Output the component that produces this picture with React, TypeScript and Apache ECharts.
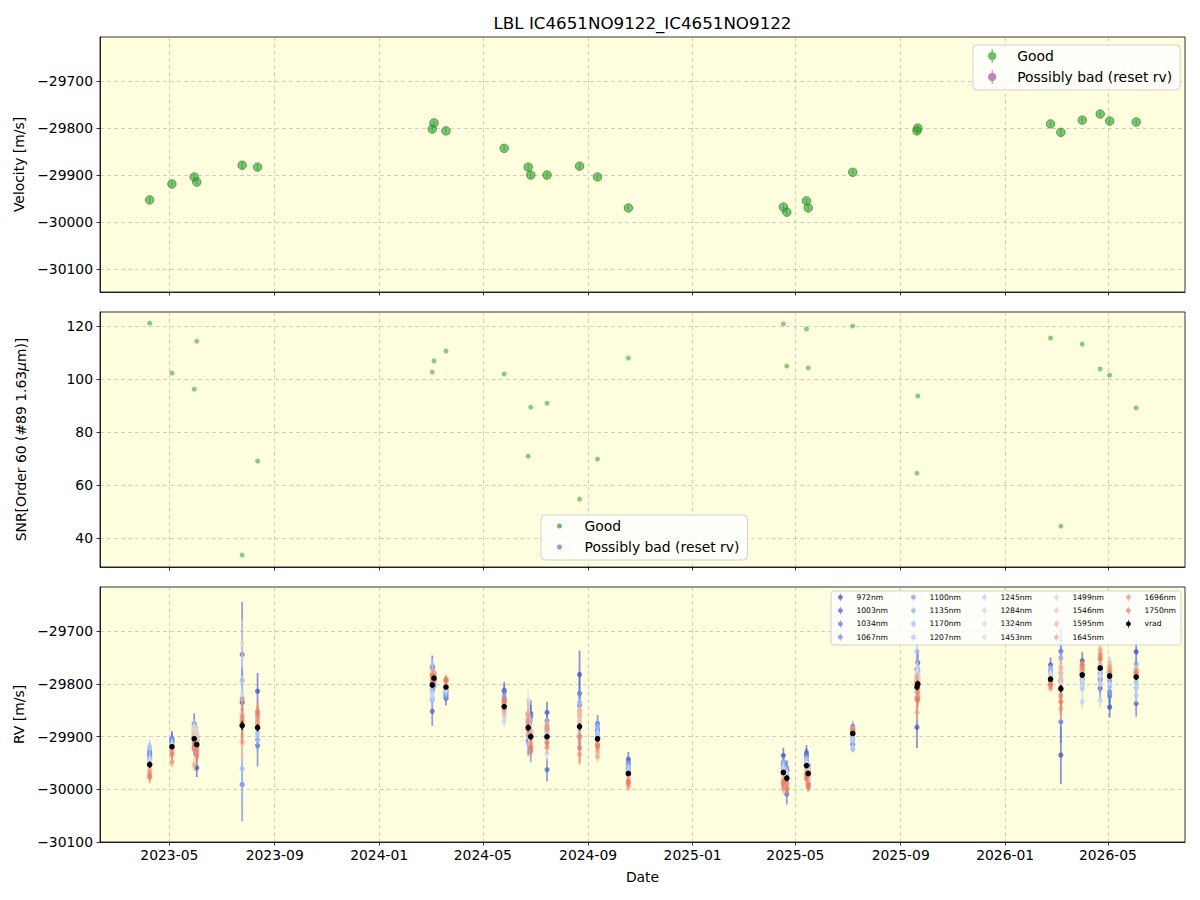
import React, { useEffect, useRef } from 'react';
import * as echarts from 'echarts';

// ---------------- data ----------------
const dates = ['2023-04-08','2023-05-04','2023-05-30','2023-06-02','2023-07-25','2023-08-12','2024-03-03','2024-03-05','2024-03-19','2024-05-26','2024-06-23','2024-06-26','2024-07-15','2024-08-22','2024-09-12','2024-10-18','2025-04-17','2025-04-21','2025-05-14','2025-05-16','2025-07-07','2025-09-20','2025-09-21','2026-02-23','2026-03-07','2026-04-01','2026-04-22','2026-05-03','2026-06-03'];
const vrad = [-29953,-29919,-29904,-29915,-29879,-29883,-29802,-29789,-29806,-29843,-29883,-29900,-29900,-29881,-29904,-29970,-29968,-29979,-29955,-29970,-29894,-29806,-29800,-29791,-29809,-29783,-29770,-29785,-29787];
const vradErr = [6,5,5,5,8,7,5,4,4,5,6,6,5,7,5,5,5,6,5,5,4,6,6,5,7,5,5,5,5];
const snr = [121.1,102.3,96.2,114.3,33.6,69.1,102.6,106.8,110.6,101.9,70.9,89.4,90.9,54.7,69.8,107.9,120.8,104.9,118.9,104.2,120,64.5,93.6,115.5,44.5,113.2,103.8,101.5,89.1];

const bandNames = ['972nm','1003nm','1034nm','1067nm','1100nm','1135nm','1170nm','1207nm','1245nm','1284nm','1324nm','1453nm','1499nm','1546nm','1595nm','1645nm','1696nm','1750nm'];

// per-band RV offsets from vrad (m/s), one value per date
const off972  = [18,12,28,-44,44,69,34,10,-21,31,27,44,46,99,15,27,32,15,19,-19,-21,-76,40,27,-126,27,-38,-59,48];
const off1003 = [25,8,10,15,135,-34,-50,5,-15,15,-25,38,-63,63,29,18,15,-30,25,15,8,34,12,10,71,10,-20,-38,-50];
const off1034 = [12,16,-15,8,-112,10,20,-5,-10,28,15,-27,30,40,10,10,20,8,10,5,13,10,-15,18,-63,-8,-10,-30,10];
const off1067 = [20,5,5,-5,51,20,10,-15,-5,5,10,10,20,-18,-5,22,8,20,5,-10,-10,-20,25,-5,15,15,5,-10,-20];
const off1100 = [8,10,20,20,20,-23,-10,8,-18,20,-15,-20,10,20,20,5,12,5,15,8,-5,15,5,15,58,5,-25,-34,25];
const off1135 = [15,4,-20,10,86,5,-25,-10,-12,10,5,5,-5,46,25,15,5,-10,8,-5,5,20,-8,8,30,-15,-12,-20,15];
const off1170 = [30,2,12,-10,-82,-10,-30,0,-8,-13,-30,30,15,30,5,8,18,12,-3,12,-30,67,18,20,-10,-25,3,-5,-10];
const off1207 = [34,6,-8,2,10,-15,38,12,-3,-5,20,-10,-10,-30,-10,12,2,-20,12,0,-15,5,30,5,5,3,-5,5,5];
const off1245 = [5,0,25,5,30,15,-15,-8,0,-27,-10,8,5,10,12,3,-3,3,0,3,-25,25,-5,12,20,-51,-61,-15,-35];
const off1284 = [10,-3,15,25,-20,10,-20,-3,-6,-20,8,0,-32,5,-8,-5,10,-5,5,-8,-8,-10,10,3,10,-20,-30,27,-20];
const off1324 = [2,3,18,15,60,5,5,6,-2,-15,12,-5,-20,-5,-15,0,-5,10,-5,6,3,30,15,10,-5,-10,-15,20,8];
const off1453 = [-2,-5,20,20,156,30,15,4,5,3,52,12,0,15,-10,-8,-8,0,-10,-12,0,22,8,5,25,12,10,25,12];
const off1499 = [-8,-8,10,12,20,28,25,-2,3,-5,30,-8,-8,10,-5,-12,-12,-8,-8,-15,5,18,-3,0,35,8,15,15,6];
const off1546 = [-5,-10,5,5,-35,20,12,3,8,2,18,-15,8,22,-20,-10,-15,-12,-15,-10,3,12,5,-5,18,5,20,10,10];
const off1595 = [-12,-12,-5,-5,-30,12,20,-6,10,8,22,4,25,28,-25,-18,-20,-15,-12,-20,8,-10,-12,-8,40,18,28,12,15];
const off1645 = [-15,-6,-50,-10,8,8,15,8,15,-8,8,-12,-21,-53,-34,-25,-31,-18,-20,-25,6,-48,-18,-17,-38,14,36,18,5];
const off1696 = [-20,-29,-20,-15,15,25,5,2,12,12,12,-27,15,-21,-15,-20,-25,-10,-18,-27,10,-25,-25,-12,-15,10,25,8,2];
const off1750 = [-24,-15,-10,-22,5,30,18,-4,14,10,-5,-20,-12,-40,-12,-15,-18,-22,-25,-22,4,8,-30,-10,-25,20,18,3,8];

// per-band RV uncertainties (m/s)
const err972  = [18,16,20,18,60,35,22,14,14,16,25,25,20,45,15,14,15,18,14,14,10,40,25,14,55,16,18,20,20];
const err1003 = [16,15,18,20,100,40,28,12,12,15,28,22,22,35,16,12,16,20,14,12,10,30,22,12,45,15,16,22,25];
const err1034 = [14,14,16,16,70,25,18,12,12,14,20,22,20,30,14,12,14,16,12,12,10,25,20,12,40,14,15,18,18];
const err1067 = [12,12,15,15,50,22,15,10,10,12,18,18,16,25,12,10,12,14,10,10,8,22,18,10,35,12,14,16,16];
const err1100 = [10,10,12,12,40,18,12,8,8,10,15,15,12,20,10,8,10,12,8,8,6,18,15,8,40,10,10,12,12];
const err1135 = [10,10,12,12,50,18,12,8,8,10,15,15,12,25,10,8,10,12,8,8,6,18,15,8,25,10,10,12,12];
const err1170 = [12,10,12,12,60,18,12,8,8,10,15,15,12,20,10,8,10,12,8,8,6,30,15,8,25,10,10,12,12];
const err1207 = [14,10,12,12,40,18,12,8,8,10,15,15,12,20,10,8,10,12,8,8,6,18,15,8,25,10,10,12,12];
const err1245 = [10,9,12,10,40,16,10,8,8,12,14,14,12,20,10,8,10,10,8,8,6,18,14,8,22,14,14,12,14];
const err1284 = [10,9,12,10,35,16,10,8,8,12,14,14,14,20,10,8,10,10,8,8,6,18,14,8,22,12,12,12,12];
const err1324 = [9,9,11,10,35,15,10,8,8,11,13,13,12,18,10,8,9,10,8,8,6,17,14,8,20,12,12,11,12];
const err1453 = [10,10,12,12,45,18,12,8,8,10,20,14,12,20,10,8,10,10,8,8,6,18,14,8,22,10,10,12,10];
const err1499 = [9,9,11,11,35,16,11,7,7,9,14,13,11,18,9,7,9,9,7,7,5,16,13,7,20,9,9,11,9];
const err1546 = [9,9,11,11,34,16,11,7,7,9,14,13,11,18,9,7,9,9,7,7,5,16,13,7,20,9,9,11,9];
const err1595 = [10,9,12,11,35,16,11,7,7,9,14,13,11,18,9,7,9,9,7,7,5,16,13,7,22,9,10,11,9];
const err1645 = [10,10,12,12,38,16,12,8,8,10,14,13,12,20,10,8,10,10,8,8,5,16,13,8,22,10,10,11,10];
const err1696 = [11,10,13,12,40,18,12,8,8,10,14,14,12,25,10,8,10,10,8,8,6,18,14,8,22,10,10,12,10];
const err1750 = [12,11,14,12,40,18,12,8,8,10,15,14,12,30,10,8,10,10,8,8,6,18,14,8,24,10,10,12,10];

const bandOffsets = [off972,off1003,off1034,off1067,off1100,off1135,off1170,off1207,off1245,off1284,off1324,off1453,off1499,off1546,off1595,off1645,off1696,off1750];
const bandErrors = [err972,err1003,err1034,err1067,err1100,err1135,err1170,err1207,err1245,err1284,err1324,err1453,err1499,err1546,err1595,err1645,err1696,err1750];

const xTickDates = ['2023-05-01','2023-09-01','2024-01-01','2024-05-01','2024-09-01','2025-01-01','2025-05-01','2025-09-01','2026-01-01','2026-05-01'];
const velTicks = [-30100,-30000,-29900,-29800,-29700];
const snrTicks = [40,60,80,100,120];
const rvTicks = [-30100,-30000,-29900,-29800,-29700];

// ---------------- helpers ----------------
const toMs = (s: string) => Date.parse(s + 'T00:00:00Z');
const tms = dates.map(toMs);
const xTicks = xTickDates.map(toMs);
const xMin = toMs('2023-02-09');
const xMax = toMs('2026-07-30');
const FONT = 'DejaVu Sans';

const CW = [[59,76,192],[98,130,234],[141,176,254],[184,208,249],[221,221,221],[245,196,173],[244,154,123],[222,96,77],[180,4,38]];
function coolwarm(t: number) {
  const x = t * 8;
  const i = Math.min(7, Math.floor(x));
  const f = x - i;
  const a = CW[i], b = CW[i + 1];
  return a.map((v, k) => Math.round(v + (b[k] - v) * f));
}
const rgba = (c: number[], a: number) => `rgba(${c[0]},${c[1]},${c[2]},${a})`;

const ERR_ICON = 'path://M4.6,0H5.4V10H4.6Z M5,2A3,3 0 1,1 5,8A3,3 0 1,1 5,2Z';
const fmtMinus = (v: number) => String(v).replace('-', '\u2212');
const fmtDate = (v: number) => {
  const d = new Date(v);
  return `${d.getUTCFullYear()}-${String(d.getUTCMonth() + 1).padStart(2, '0')}`;
};

function errSeries(name: string, grid: number, values: number[], errs: number[], fill: string, stroke: string, r: number, lw: number, ring?: string) {
  return {
    type: 'custom',
    name,
    xAxisIndex: grid,
    yAxisIndex: grid,
    clip: true,
    itemStyle: { color: fill },
    encode: { x: 0, y: 1 },
    data: values.map((v, i) => [tms[i], v, v - errs[i], v + errs[i]]),
    renderItem: (params: any, api: any) => {
      const c = api.coord([api.value(0), api.value(1)]);
      const lo = api.coord([api.value(0), api.value(2)]);
      const hi = api.coord([api.value(0), api.value(3)]);
      return {
        type: 'group',
        children: [
          { type: 'line', shape: { x1: c[0], y1: lo[1], x2: c[0], y2: hi[1] }, style: { stroke, lineWidth: lw } },
          { type: 'circle', shape: { cx: c[0], cy: c[1], r }, style: ring ? { fill, stroke: ring, lineWidth: 1 } : { fill } },
        ],
      };
    },
  };
}

const GRID_L = 100, GRID_W = 1085;
const grids = [
  { top: 37, height: 255 },
  { top: 312, height: 255 },
  { top: 587, height: 255 },
];

export default function App() {
  const ref = useRef<HTMLDivElement>(null);
  useEffect(() => {
    if (!ref.current) return;
    const chart = echarts.init(ref.current, undefined, { renderer: 'svg' });

    const gridLine = { show: true, lineStyle: { color: 'rgba(150,150,150,0.55)', width: 0.8, type: [4, 3] } };
    const tickStyle = { show: true, inside: false, length: 3.5, lineStyle: { color: '#000', width: 0.8 } };
    const labelStyle = { color: '#000', fontSize: 13.9, fontFamily: FONT };

    const xAxis = [0, 1, 2].map((i) => ({
      type: 'value',
      gridIndex: i,
      min: xMin,
      max: xMax,
      axisLine: { show: true, onZero: false, lineStyle: { color: '#000', width: 0.8 } },
      axisTick: { ...tickStyle, customValues: xTicks },
      axisLabel: { show: i === 2, ...labelStyle, margin: 6, customValues: xTicks, formatter: fmtDate, hideOverlap: false },
      splitLine: gridLine,
      name: i === 2 ? 'Date' : '',
      nameLocation: 'middle',
      nameGap: 28,
      nameTextStyle: labelStyle,
    }));

    const yDefs = [
      { min: -30149, max: -29606, ticks: velTicks, name: 'Velocity [m/s]' },
      { min: 29.1, max: 125.3, ticks: snrTicks, name: 'SNR[Order 60 (#89 1.63{i|μ}m)]' },
      { min: -30100, max: -29616, ticks: rvTicks, name: 'RV [m/s]' },
    ];
    const yAxis = yDefs.map((d, i) => ({
      type: 'value',
      gridIndex: i,
      min: d.min,
      max: d.max,
      axisLine: { show: true, onZero: false, lineStyle: { color: '#000', width: 0.8 } },
      axisTick: { ...tickStyle, customValues: d.ticks },
      axisLabel: { ...labelStyle, margin: 7, customValues: d.ticks, formatter: fmtMinus },
      splitLine: gridLine,
      name: d.name,
      nameLocation: 'middle',
      nameGap: 72,
      nameTextStyle: { ...labelStyle, rich: { i: { fontStyle: 'italic', fontSize: 13.9, fontFamily: FONT, color: '#000' } } },
    }));

    const green = 'rgba(44,160,44,0.6)';
    const purple = 'rgba(128,0,128,0.6)';

    const series: any[] = [];
    series.push(errSeries('Good', 0, vrad, vradErr, green, green, 4.2, 1.5, 'rgba(30,130,30,0.7)'));
    series.push({ type: 'scatter', name: 'Possibly bad (reset rv)', xAxisIndex: 0, yAxisIndex: 0, data: [], itemStyle: { color: purple } });
    series.push({
      type: 'scatter', name: 'Good', xAxisIndex: 1, yAxisIndex: 1, symbolSize: 5,
      itemStyle: { color: 'rgba(44,160,44,0.7)' }, data: snr.map((v, i) => [tms[i], v]),
    });
    series.push({ type: 'scatter', name: 'Possibly bad (reset rv)', xAxisIndex: 1, yAxisIndex: 1, data: [], itemStyle: { color: purple } });

    const bandColors = bandNames.map((_, i) => coolwarm((0.82 * i) / 17));
    bandNames.forEach((n, i) => {
      const vals = vrad.map((v, k) => v + bandOffsets[i][k]);
      series.push(errSeries(n, 2, vals, bandErrors[i], rgba(bandColors[i], 0.72), rgba(bandColors[i], 0.6), 2.6, 1.8));
    });
    series.push(errSeries('vrad', 2, vrad, vradErr, '#000', '#000', 2.8, 1.5));

    const legendText = { color: '#000', fontSize: 13.9, fontFamily: FONT, lineHeight: 14 };
    const legends: any[] = [
      {
        left: 973, top: 45, orient: 'vertical', itemWidth: 40, itemHeight: 14, itemGap: 7,
        padding: [4, 8, 6, 15], backgroundColor: 'rgba(255,255,255,0.8)', borderColor: '#d0d0d0', borderWidth: 1, borderRadius: 4,
        textStyle: legendText, z: 10,
        data: [
          { name: 'Good', icon: ERR_ICON, itemStyle: { color: 'rgba(44,160,44,0.7)' } },
          { name: 'Possibly bad (reset rv)', icon: ERR_ICON, itemStyle: { color: 'rgba(128,0,128,0.6)' } },
        ],
      },
      {
        left: 541, top: 515, orient: 'vertical', itemWidth: 40, itemHeight: 5, itemGap: 7,
        padding: [4, 8, 6, 16], backgroundColor: 'rgba(255,255,255,0.8)', borderColor: '#d0d0d0', borderWidth: 1, borderRadius: 4,
        textStyle: legendText, z: 10,
        data: [
          { name: 'Good', icon: 'circle', itemStyle: { color: 'rgba(44,160,44,0.7)' } },
          { name: 'Possibly bad (reset rv)', icon: 'circle', itemStyle: { color: 'rgba(128,0,128,0.6)' } },
        ],
      },
    ];
    const cols = [bandNames.slice(0, 4), bandNames.slice(4, 8), bandNames.slice(8, 12), bandNames.slice(12, 16), [...bandNames.slice(16, 18), 'vrad']];
    const colLefts = [838, 911, 982, 1054, 1126];
    cols.forEach((names, ci) => {
      legends.push({
        left: colLefts[ci], top: 593.3, orient: 'vertical', itemWidth: 22, itemHeight: 8, itemGap: 5.3, padding: 0,
        textStyle: { color: '#000', fontSize: 7.6, fontFamily: FONT, lineHeight: 8 }, z: 10,
        data: names.map((n) => {
          const bi = bandNames.indexOf(n);
          const color = bi >= 0 ? rgba(bandColors[bi], 0.75) : '#000';
          return { name: n, icon: ERR_ICON, itemStyle: { color } };
        }),
      });
    });

    chart.setOption({
      animation: false,
      backgroundColor: '#fff',
      textStyle: { fontFamily: FONT },
      grid: grids.map((g) => ({
        left: GRID_L, width: GRID_W, top: g.top, height: g.height,
        show: true, backgroundColor: '#FFFFE0', borderColor: '#000', borderWidth: 0.8, containLabel: false,
      })),
      xAxis,
      yAxis,
      legend: legends,
      graphic: [
        {
          type: 'text', x: 642.5, y: 23, z: 10,
          style: { text: 'LBL IC4651NO9122_IC4651NO9122', fill: '#000', font: `16.7px "${FONT}"`, textAlign: 'center', textVerticalAlign: 'middle' },
        },
        {
          type: 'rect', z: 8, shape: { x: 831, y: 591, width: 350, height: 54, r: 3 },
          style: { fill: 'rgba(255,255,255,0.8)', stroke: '#d0d0d0', lineWidth: 1 },
        },
      ],
      series,
    });
    return () => chart.dispose();
  }, []);
  return <div ref={ref} style={{ position: 'absolute', left: 0, top: 0, width: 1200, height: 900 }} />;
}
